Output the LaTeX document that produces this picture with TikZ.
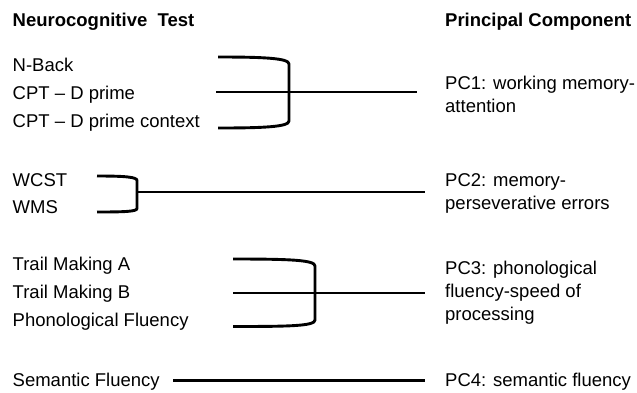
\documentclass[tikz,border=0pt]{standalone}
\usepackage{fontspec}
\setmainfont{Liberation Sans}
\begin{document}
\begin{tikzpicture}[x=1pt,y=-1pt,
  txt/.style={anchor=base west,inner sep=0pt,font=\fontsize{18.5}{23}\selectfont},
  hdr/.style={anchor=base west,inner sep=0pt,font=\fontsize{18.5}{23}\selectfont\bfseries},
  pctxt/.style={anchor=north west,inner sep=0pt,align=left,font=\fontsize{18.5}{23}\selectfont},
  brace/.style={line width=2.9pt,line join=round},
  link/.style={line width=2.5pt}]
\useasboundingbox (0,0) rectangle (637,392);
% headers
\node[hdr] (h1) at (12.5,26.5) {Neurocognitive~~Test};
\node[hdr] (h2) at (445,26.5) {Principal Component};
% group 1
\node[txt] (nback) at (12.5,71.5) {N-Back};
\node[txt] (cptd) at (12.5,99.5) {CPT -- D prime};
\node[txt] (cptc) at (12.5,127.5) {CPT -- D prime context};
\node[pctxt] (pc1) at (445,76.2) {PC1: working memory-\\attention};
\coordinate (a1) at (218,57);
\coordinate (b1) at (218,128);
\coordinate (m1s) at (216,92);
\coordinate (m1e) at (417,92);
\draw[brace] (a1) .. controls (262,57) and (289,58) .. (289,64) -- (289,121) .. controls (289,127) and (262,128) .. (b1);
\draw[link] (m1s) -- (m1e);
% group 2
\node[txt] (wcst) at (12.5,186) {WCST};
\node[txt] (wms) at (12.5,213) {WMS};
\node[pctxt] (pc2) at (445,173.2) {PC2: memory-\\perseverative errors};
\coordinate (a2) at (97,176);
\coordinate (b2) at (97,212);
\coordinate (m2s) at (137,192);
\coordinate (m2e) at (425,192);
\draw[brace] (a2) .. controls (125,176) and (137,177) .. (137,180.5) -- (137,208.5) .. controls (137,211.5) and (125,212) .. (b2);
\draw[link] (m2s) -- (m2e);
% group 3
\node[txt] (tma) at (12.5,270.5) {Trail Making A};
\node[txt] (tmb) at (12.5,298.5) {Trail Making B};
\node[txt] (phon) at (12.5,326.5) {Phonological Fluency};
\node[pctxt] (pc3) at (445,260.7) {PC3: phonological\\fluency-speed of\\processing};
\coordinate (a3) at (233,259);
\coordinate (b3) at (233,326.5);
\coordinate (m3s) at (233,293);
\coordinate (m3e) at (425,293);
\draw[brace] (a3) .. controls (290,259) and (315,260) .. (315,266) -- (315,320) .. controls (315,326) and (290,326.5) .. (b3);
\draw[link] (m3s) -- (m3e);
% group 4
\node[txt] (sem) at (12.5,386.5) {Semantic Fluency};
\node[txt] (pc4) at (445,386.5) {PC4: semantic fluency};
\coordinate (m4s) at (173,380.5);
\coordinate (m4e) at (425,380.5);
\draw[brace] (m4s) -- (m4e);
\end{tikzpicture}
\end{document}
